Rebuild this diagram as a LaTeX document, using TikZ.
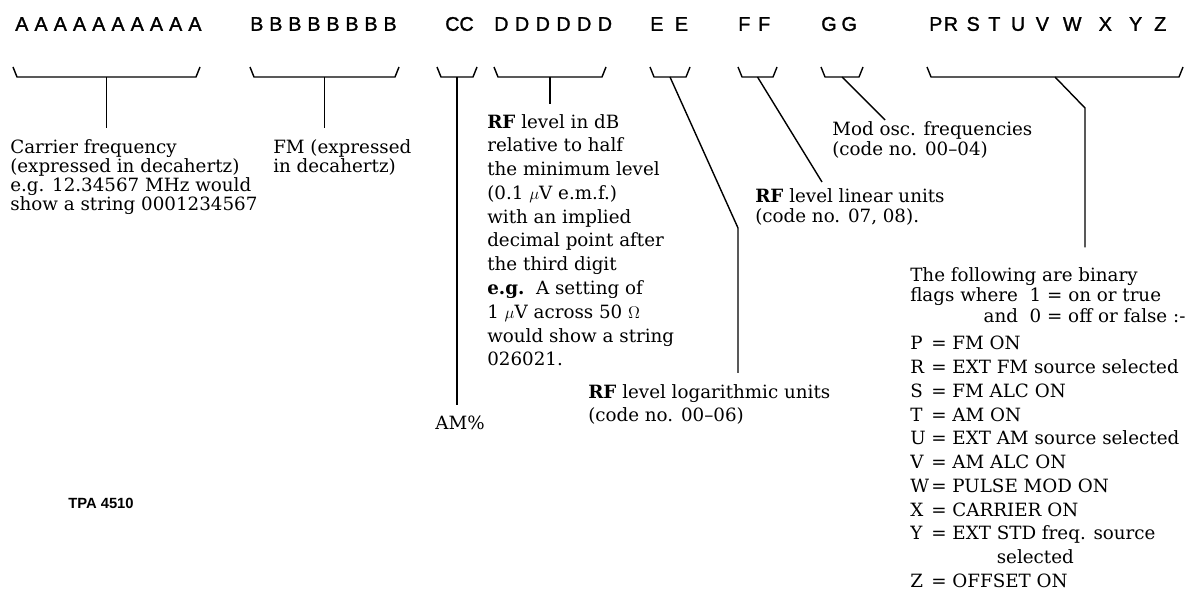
\documentclass[tikz,border=0pt]{standalone}
\usepackage{fontspec}
\usepackage{calc}
\setmainfont{DejaVu Serif}
\newfontfamily\codefont[FakeBold=1.5]{Liberation Sans}
\newfontfamily\tagfont{Liberation Sans}
\newcommand{\flagline}[2]{\makebox[1.15em][l]{#1}= #2}
\newcommand{\spaced}[2]{{\addfontfeature{LetterSpace=#1}#2}}
\newcommand{\fieldbrace}[3]{%
  \draw[brace] (#1,67) -- (#1+4,77) -- (#2-4,77) -- (#2,67);
  \coordinate (#3) at ({(#1+#2)/2},77);}
\begin{document}
\begin{tikzpicture}[x=0.025cm,y=-0.025cm]
  \tikzstyle{code}=[font=\codefont\fontsize{14}{16}\selectfont, inner sep=0pt, anchor=west]
  \tikzstyle{brace}=[line width=1pt, line join=round]
  \tikzstyle{lead}=[line width=1pt]
  \tikzstyle{note}=[align=left, anchor=north west, inner sep=0pt, font=\fontsize{13}{13.5}\selectfont]
  \tikzstyle{midnote}=[note, font=\fontsize{13}{14.8}\selectfont]
  \tikzstyle{tallnote}=[note, font=\fontsize{13}{16.9}\selectfont]

  \useasboundingbox (0,0) rectangle (1204,591);

  % the field letters of the string
  \node[code] (ca) at (15,24) {\spaced{31}{AAAAAAAAAA}};
  \node[code] (cb) at (250,24) {\spaced{30}{BBBBBBBB}};
  \node[code] (cc) at (445,24) {\spaced{0}{CC}};
  \node[code] (cd) at (494,24) {\spaced{33}{DDDDDD}};
  \node[code] (ce) at (650,24) {\spaced{58}{EE}};
  \node[code] (cf) at (738,24) {\spaced{40}{FF}};
  \node[code] (cg) at (821,24) {\spaced{25}{GG}};
  \node[code] (cp) at (929,24) {P\hspace{0.035cm}R\hspace{0.215cm}S\hspace{0.215cm}T\hspace{0.265cm}U\hspace{0.265cm}V\hspace{0.35cm}W\hspace{0.43cm}X\hspace{0.43cm}Y\hspace{0.3cm}Z};

  % brackets under each field
  \fieldbrace{13}{200}{ba}
  \fieldbrace{250}{399}{bb}
  \fieldbrace{437}{477}{bc}
  \fieldbrace{494}{606}{bd}
  \fieldbrace{650}{690}{be}
  \fieldbrace{738}{777}{bf}
  \fieldbrace{821}{863}{bg}
  \fieldbrace{927}{1183}{bp}

  % explanations
  \node[note] (carrier) at (10,139) {Carrier frequency\\(expressed in decahertz)\\e.g. 12.34567 MHz would\\show a string 0001234567};
  \node[note] (fm) at (273,139) {FM (expressed\\in decahertz)};
  \node[tallnote] (rfdb) at (487,114) {\textbf{RF} level in dB\\relative to half\\the minimum level\\(0.1 $\mu$V e.m.f.)\\with an implied\\decimal point after\\the third digit\\\textbf{e.g.}\ \ A setting of\\1 $\mu$V across 50 $\Omega$\\would show a string\\026021.};
  \node[anchor=north, inner sep=0pt, font=\fontsize{13}{15}\selectfont] (amp) at (460,416) {AM\%};
  \node[midnote] (modosc) at (832,121) {Mod osc. frequencies\\(code no. 00--04)};
  \node[midnote] (rflin) at (755,188) {\textbf{RF} level linear units\\(code no. 07, 08).};
  \node[tallnote] (rflog) at (588,384) {\textbf{RF} level logarithmic units\\(code no. 00--06)};
  \node[midnote] (flags) at (910,267) {The following are binary\\flags where\ \ 1 = on or true\\\makebox[\widthof{flags where}][r]{and}\ \ 0 = off or false :-};
  \node[tallnote] (flaglist) at (910,336) {\flagline{P}{FM ON}\\\flagline{R}{EXT FM source selected}\\\flagline{S}{FM ALC ON}\\\flagline{T}{AM ON}\\\flagline{U}{EXT AM source selected}\\\flagline{V}{AM ALC ON}\\\flagline{W}{PULSE MOD ON}\\\flagline{X}{CARRIER ON}\\\flagline{Y}{EXT STD freq. source}\\\hphantom{\flagline{Y}{EXT }}selected\\\flagline{Z}{OFFSET ON}};
  \node[anchor=west, inner sep=0pt, font=\tagfont\bfseries\fontsize{10.5}{12}\selectfont] (tag) at (68,503) {TPA 4510};

  % leaders
  \coordinate (ebend) at (738,228);
  \coordinate (fend) at (822,182);
  \coordinate (gend) at (885,120);
  \coordinate (pbend) at (1085,108);
  \draw[lead, shorten >=8pt] (ba) -- (ba |- carrier.north);
  \draw[lead, shorten >=8pt] (bb) -- (bb |- fm.north);
  \draw[lead, shorten >=8pt] (bc) -- (bc |- amp.north);
  \draw[lead, shorten >=7pt] (bd) -- (bd |- rfdb.north);
  \draw[lead, shorten >=8pt] (be) -- (ebend) -- (ebend |- rflog.north);
  \draw[lead] (bf) -- (fend);
  \draw[lead] (bg) -- (gend);
  \draw[lead, shorten >=14pt] (bp) -- (pbend) -- (pbend |- flags.north);
\end{tikzpicture}
\end{document}
